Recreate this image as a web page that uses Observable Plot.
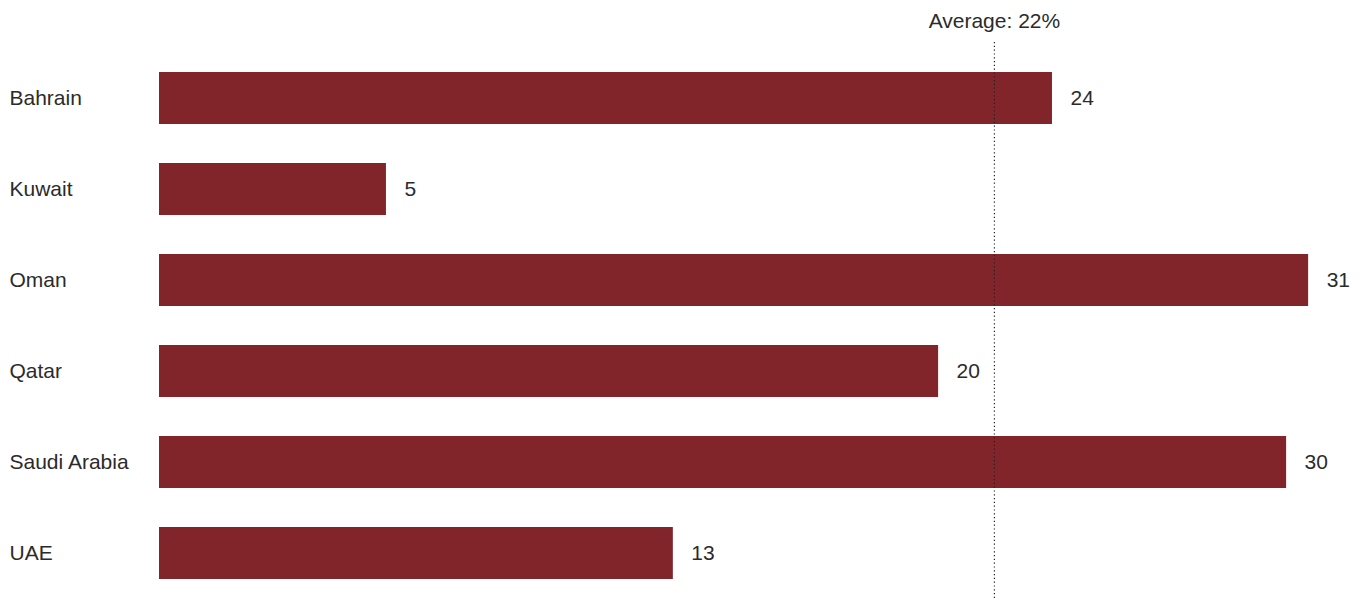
<!DOCTYPE html>
<html>
<head>
<meta charset="utf-8">
<script src="https://cdn.jsdelivr.net/npm/d3@7"></script>
<script src="https://cdn.jsdelivr.net/npm/@observablehq/plot@0.6"></script>
<style>
  html, body { margin: 0; padding: 0; background: #fff; }
</style>
</head>
<body>
<div id="chart"></div>
<script>
const countries = ["Bahrain", "Kuwait", "Oman", "Qatar", "Saudi Arabia", "UAE"];
const values = [23.53, 5.98, 30.28, 20.53, 29.70, 13.54];
const valueLabels = ["24", "5", "31", "20", "30", "13"];
const average = 22;
const averageLabel = "Average: 22%";

const data = countries.map((c, i) => ({country: c, value: values[i], label: valueLabels[i]}));

const chart = Plot.plot({
  width: 1364,
  height: 600,
  marginTop: 50,
  marginBottom: 0,
  marginLeft: 159,
  marginRight: 0,
  style: {fontFamily: "'Liberation Sans', Arial, Helvetica, sans-serif", fontSize: "21px", color: "#2b2b2b", background: "#fff", overflow: "visible"},
  x: {domain: [0, 32], range: [159, 1373.4], axis: null},
  y: {domain: countries, paddingInner: 0.43, paddingOuter: 0.215, label: null},
  marks: [
    Plot.barX(data, {x: "value", y: "country", fill: "#82252b"}),
    Plot.text(data, {x: "value", y: "country", text: "label", textAnchor: "start", dx: 18, fill: "#2b2b2b"}),
    Plot.ruleX([average], {stroke: "#222", strokeWidth: 1.2, strokeDasharray: "1.2,2.6", insetTop: -8}),
    Plot.text([averageLabel], {x: () => average, frameAnchor: "top", lineAnchor: "bottom", dy: -23, fill: "#2b2b2b"}),
    Plot.axisY({tickSize: 0, tickPadding: 0, textAnchor: "start", dx: -150, fill: "#2b2b2b", label: null})
  ]
});
document.getElementById("chart").appendChild(chart);
</script>
</body>
</html>
